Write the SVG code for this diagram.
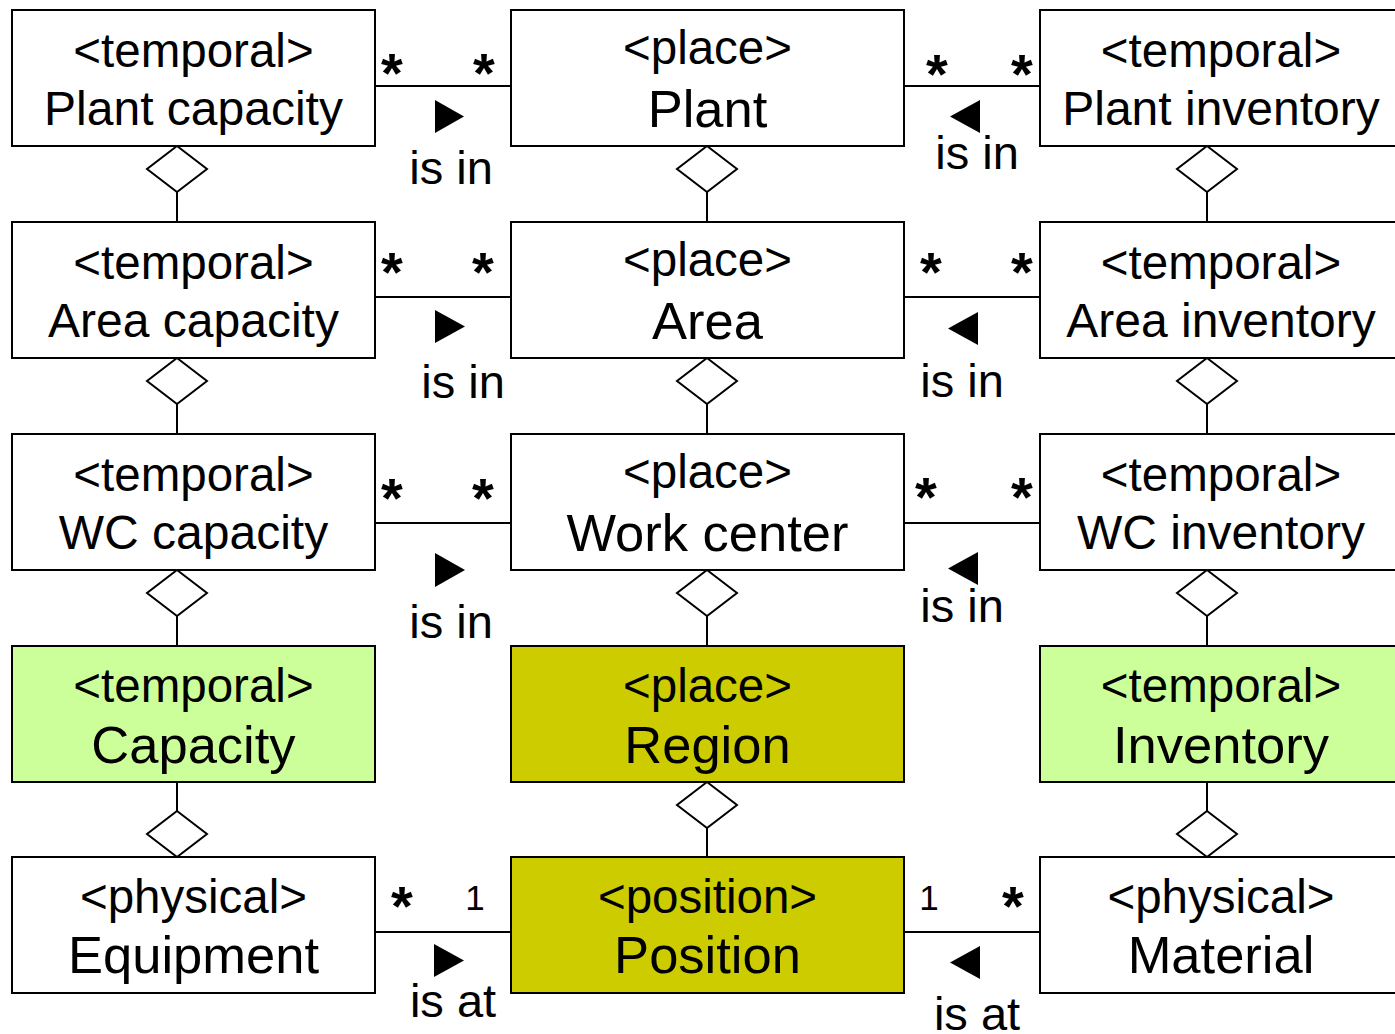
<svg xmlns="http://www.w3.org/2000/svg" width="1395" height="1034" viewBox="0 0 1395 1034">
<style>
.box{fill:#fff;stroke:#000;stroke-width:2}
.g{fill:#ccff99}
.o{fill:#cccc00}
text{font-family:"Liberation Sans",Arial,sans-serif;fill:#000;text-anchor:middle}
.t1{font-size:47.5px}
.t2{font-size:48px}
.t3{font-size:52.5px}
.lbl{font-size:47px}
.star{font-size:56px;font-weight:bold}
.one{font-size:35px}
.ln{stroke:#000;stroke-width:2;fill:none}
.dia{fill:#fff;stroke:#000;stroke-width:2}
.tri{fill:#000}
</style>
<rect width="1395" height="1034" fill="#fff"/>
<g id="connectors">
  <line class="ln" x1="375" y1="86" x2="511" y2="86"/>
  <line class="ln" x1="904" y1="86" x2="1040" y2="86"/>
  <line class="ln" x1="375" y1="297" x2="511" y2="297"/>
  <line class="ln" x1="904" y1="297" x2="1040" y2="297"/>
  <line class="ln" x1="375" y1="523" x2="511" y2="523"/>
  <line class="ln" x1="904" y1="523" x2="1040" y2="523"/>
  <line class="ln" x1="375" y1="932" x2="511" y2="932"/>
  <line class="ln" x1="904" y1="932" x2="1040" y2="932"/>
  <polygon class="tri" points="435,100 464,116.5 435,133"/>
  <polygon class="tri" points="980,100 950,116.5 980,133"/>
  <polygon class="tri" points="435,310 465,326.5 435,343"/>
  <polygon class="tri" points="978,312 948,328.5 978,345"/>
  <polygon class="tri" points="435,553 465,570 435,587"/>
  <polygon class="tri" points="978,552 948,568.5 978,585"/>
  <polygon class="tri" points="434,944 464,960.5 434,977"/>
  <polygon class="tri" points="980,946 950,962.5 980,979"/>
  <text class="star" x="392" y="92">*</text>
  <text class="star" x="484" y="92">*</text>
  <text class="star" x="937" y="93">*</text>
  <text class="star" x="1022" y="93">*</text>
  <text class="star" x="392" y="291">*</text>
  <text class="star" x="483" y="291">*</text>
  <text class="star" x="931" y="291">*</text>
  <text class="star" x="1022" y="291">*</text>
  <text class="star" x="392" y="517">*</text>
  <text class="star" x="483" y="517">*</text>
  <text class="star" x="926" y="516">*</text>
  <text class="star" x="1022" y="516">*</text>
  <text class="star" x="402" y="925">*</text>
  <text class="one" x="475" y="909.5">1</text>
  <text class="one" x="929" y="909.5">1</text>
  <text class="star" x="1013" y="925">*</text>
  <text class="lbl" x="451" y="184">is in</text>
  <text class="lbl" x="977" y="169">is in</text>
  <text class="lbl" x="463" y="398">is in</text>
  <text class="lbl" x="962" y="397">is in</text>
  <text class="lbl" x="451" y="638">is in</text>
  <text class="lbl" x="962" y="622">is in</text>
  <text class="lbl" x="453" y="1017">is at</text>
  <text class="lbl" x="977" y="1030">is at</text>
  <line class="ln" x1="177" y1="192" x2="177" y2="222"/>
  <polygon class="dia" points="177,146 207,169 177,192 147,169"/>
  <line class="ln" x1="707" y1="192" x2="707" y2="222"/>
  <polygon class="dia" points="707,146 737,169 707,192 677,169"/>
  <line class="ln" x1="1207" y1="192" x2="1207" y2="222"/>
  <polygon class="dia" points="1207,146 1237,169 1207,192 1177,169"/>
  <line class="ln" x1="177" y1="404" x2="177" y2="434"/>
  <polygon class="dia" points="177,358 207,381 177,404 147,381"/>
  <line class="ln" x1="707" y1="404" x2="707" y2="434"/>
  <polygon class="dia" points="707,358 737,381 707,404 677,381"/>
  <line class="ln" x1="1207" y1="404" x2="1207" y2="434"/>
  <polygon class="dia" points="1207,358 1237,381 1207,404 1177,381"/>
  <line class="ln" x1="177" y1="616" x2="177" y2="646"/>
  <polygon class="dia" points="177,570 207,593 177,616 147,593"/>
  <line class="ln" x1="707" y1="616" x2="707" y2="646"/>
  <polygon class="dia" points="707,570 737,593 707,616 677,593"/>
  <line class="ln" x1="1207" y1="616" x2="1207" y2="646"/>
  <polygon class="dia" points="1207,570 1237,593 1207,616 1177,593"/>
  <line class="ln" x1="177" y1="782" x2="177" y2="811"/>
  <polygon class="dia" points="177,811 207,834 177,857 147,834"/>
  <line class="ln" x1="707" y1="828" x2="707" y2="857"/>
  <polygon class="dia" points="707,782 737,805 707,828 677,805"/>
  <line class="ln" x1="1207" y1="782" x2="1207" y2="811"/>
  <polygon class="dia" points="1207,811 1237,834 1207,857 1177,834"/>
</g>
<g id="plant-capacity">
  <rect class="box" x="12" y="10" width="363" height="136"/>
  <text class="t1" x="193.5" y="67">&lt;temporal&gt;</text>
  <text class="t2" x="193.5" y="125">Plant capacity</text>
</g>
<g id="plant">
  <rect class="box" x="511" y="10" width="393" height="136"/>
  <text class="t1" x="707.5" y="64">&lt;place&gt;</text>
  <text class="t3" x="707.5" y="127">Plant</text>
</g>
<g id="plant-inventory">
  <rect class="box" x="1040" y="10" width="362" height="136"/>
  <text class="t1" x="1221" y="67">&lt;temporal&gt;</text>
  <text class="t2" x="1221" y="125">Plant inventory</text>
</g>
<g id="area-capacity">
  <rect class="box" x="12" y="222" width="363" height="136"/>
  <text class="t1" x="193.5" y="279">&lt;temporal&gt;</text>
  <text class="t2" x="193.5" y="337">Area capacity</text>
</g>
<g id="area">
  <rect class="box" x="511" y="222" width="393" height="136"/>
  <text class="t1" x="707.5" y="276">&lt;place&gt;</text>
  <text class="t3" x="707.5" y="339">Area</text>
</g>
<g id="area-inventory">
  <rect class="box" x="1040" y="222" width="362" height="136"/>
  <text class="t1" x="1221" y="279">&lt;temporal&gt;</text>
  <text class="t2" x="1221" y="337">Area inventory</text>
</g>
<g id="wc-capacity">
  <rect class="box" x="12" y="434" width="363" height="136"/>
  <text class="t1" x="193.5" y="491">&lt;temporal&gt;</text>
  <text class="t2" x="193.5" y="549">WC capacity</text>
</g>
<g id="work-center">
  <rect class="box" x="511" y="434" width="393" height="136"/>
  <text class="t1" x="707.5" y="488">&lt;place&gt;</text>
  <text class="t3" x="707.5" y="551">Work center</text>
</g>
<g id="wc-inventory">
  <rect class="box" x="1040" y="434" width="362" height="136"/>
  <text class="t1" x="1221" y="491">&lt;temporal&gt;</text>
  <text class="t2" x="1221" y="549">WC inventory</text>
</g>
<g id="capacity">
  <rect class="box g" x="12" y="646" width="363" height="136"/>
  <text class="t1" x="193.5" y="702">&lt;temporal&gt;</text>
  <text class="t3" x="193.5" y="763">Capacity</text>
</g>
<g id="region">
  <rect class="box o" x="511" y="646" width="393" height="136"/>
  <text class="t1" x="707.5" y="702">&lt;place&gt;</text>
  <text class="t3" x="707.5" y="763">Region</text>
</g>
<g id="inventory">
  <rect class="box g" x="1040" y="646" width="362" height="136"/>
  <text class="t1" x="1221" y="702">&lt;temporal&gt;</text>
  <text class="t3" x="1221" y="763">Inventory</text>
</g>
<g id="equipment">
  <rect class="box" x="12" y="857" width="363" height="136"/>
  <text class="t1" x="193.5" y="913">&lt;physical&gt;</text>
  <text class="t3" x="193.5" y="973">Equipment</text>
</g>
<g id="position">
  <rect class="box o" x="511" y="857" width="393" height="136"/>
  <text class="t1" x="707.5" y="913">&lt;position&gt;</text>
  <text class="t3" x="707.5" y="973">Position</text>
</g>
<g id="material">
  <rect class="box" x="1040" y="857" width="362" height="136"/>
  <text class="t1" x="1221" y="913">&lt;physical&gt;</text>
  <text class="t3" x="1221" y="973">Material</text>
</g>
</svg>
